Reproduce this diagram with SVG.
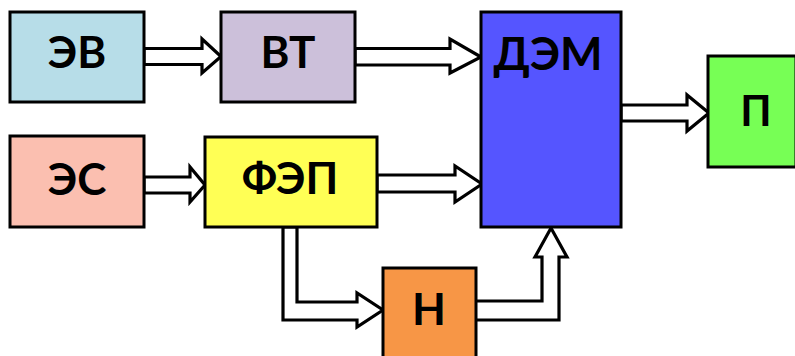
<svg xmlns="http://www.w3.org/2000/svg" width="795" height="356" viewBox="0 0 795 356">
  <style>
    .box { stroke: #000; stroke-width: 3; }
    .lbl { font-family: Lato, "Open Sans", "Liberation Sans", sans-serif; font-weight: bold; font-size: 44px; fill: #000; text-anchor: middle; }
    .arrow { fill: #fff; stroke: #000; stroke-width: 3.2; stroke-linejoin: miter; stroke-miterlimit: 10; }
  </style>
  <rect width="795" height="356" fill="#fff"/>

  <!-- block arrows between the units -->
  <g id="connectors">
    <polygon class="arrow" points="144,48.5 202,48.5 202,39 221,56.5 202,73 202,64.5 144,64.5"/>
    <polygon class="arrow" points="355,48.5 450,48.5 450,39 481,57 450,73 450,65 355,65"/>
    <polygon class="arrow" points="144,177 190,177 190,167 205,185 190,202 190,193 144,193"/>
    <polygon class="arrow" points="377,175 455,175 455,166 482,184 455,202 455,192 377,192"/>
    <polygon class="arrow" points="621,105 687,105 687,95 709,113 687,131 687,121 621,121"/>
    <polygon class="arrow" points="283,227 283,320 357,320 357,327 383,310 357,293 357,302 297,302 297,227"/>
    <polygon class="arrow" points="475,301 542,301 542,257 535,257 551,228 567,257 559,257 559,320 475,320"/>
  </g>

  <g id="EV">
    <rect class="box" x="10" y="12" width="134" height="90" fill="#b7dde8"/>
    <text class="lbl" x="77" y="68">ЭВ</text>
  </g>
  <g id="VT">
    <rect class="box" x="221" y="12" width="134" height="90" fill="#ccc0da"/>
    <text class="lbl" x="288" y="68">ВТ</text>
  </g>
  <g id="DEM">
    <rect class="box" x="481" y="12" width="140" height="215" fill="#5555ff"/>
    <text class="lbl" x="548" y="70" style="font-size:45px">ДЭМ</text>
  </g>
  <g id="P">
    <rect class="box" x="708" y="56" width="88" height="111" fill="#77ff55"/>
    <text class="lbl" x="756" y="126" style="font-size:42px">П</text>
  </g>
  <g id="ES">
    <rect class="box" x="10" y="136" width="134" height="91" fill="#fbbfb0"/>
    <text class="lbl" x="77" y="195">ЭС</text>
  </g>
  <g id="FEP">
    <rect class="box" x="205" y="137" width="172" height="90" fill="#ffff55"/>
    <text class="lbl" x="290" y="194">ФЭП</text>
  </g>
  <g id="N">
    <rect class="box" x="383" y="268" width="93" height="100" fill="#f79646"/>
    <text class="lbl" x="429" y="325">Н</text>
  </g>
</svg>
